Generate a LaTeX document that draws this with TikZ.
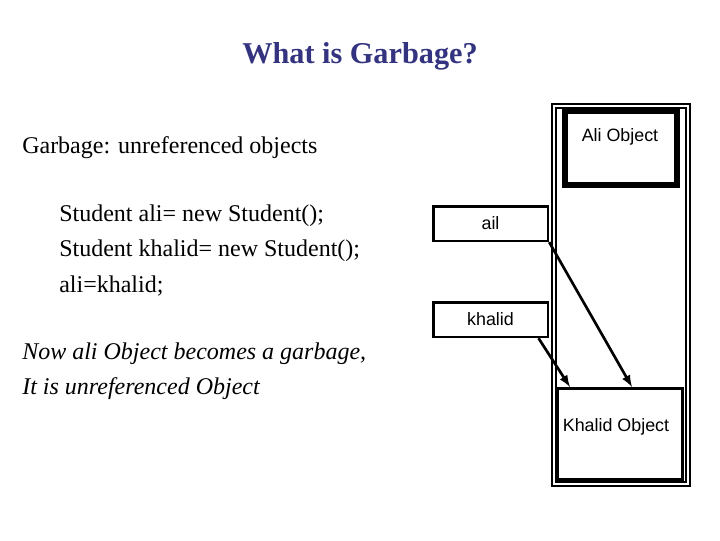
\documentclass[tikz,border=0pt]{standalone}
\usepackage{fontspec}
\setmainfont{Liberation Serif}
\newfontfamily\boxfont{Liberation Sans}
\definecolor{titleblue}{RGB}{51,51,128}
\tikzset{
  refbox/.style={draw, line width=2pt, minimum width=86pt, minimum height=26pt, inner sep=0pt, font=\boxfont\fontsize{13.4}{15}\selectfont},
  codeline/.style={anchor=west, font=\fontsize{18}{21}\selectfont, inner sep=0pt},
  ptr/.style={line width=2pt, -latex}
}
\begin{document}
\begin{tikzpicture}[x=0.75pt, y=-0.75pt]
\useasboundingbox (0,0) rectangle (720,540);
\node[font=\bfseries\fontsize{22.7}{26}\selectfont, text=titleblue] (title) at (360,56) {What is Garbage?};
\node[codeline] (def) at (22,148) {Garbage: unreferenced objects};
\node[codeline] (l1) at (59,216) {Student ali= new Student();};
\node[codeline] (l2) at (59,251) {Student khalid= new Student();};
\node[codeline] (l3) at (59,286) {ali=khalid;};
\node[codeline, font=\itshape\fontsize{18}{21}\selectfont] (n1) at (22,354) {Now ali Object becomes a garbage,};
\node[codeline, font=\itshape\fontsize{18}{21}\selectfont] (n2) at (22,389) {It is unreferenced Object};
% heap
\draw[line width=1.5pt] (552,104) rectangle (690,486);
\draw[line width=1.5pt] (556,108) rectangle (686,482);
\draw[line width=5pt] (565,111) rectangle (677,185);
\node[font=\boxfont\fontsize{13.4}{15}\selectfont] (aliobj) at (620,137) {Ali Object};
\node[draw, line width=2pt, minimum width=94pt, minimum height=68pt, inner sep=0pt] (khobjbox) at (620,434) {};
\node[font=\boxfont\fontsize{13.4}{15}\selectfont] (khobj) at (616,427) {Khalid Object};
% references
\node[refbox] (ail) at (490.5,223.5) {ail};
\node[refbox] (khalid) at (490.5,319.5) {khalid};
\coordinate (t1) at (632,387);
\coordinate (t2) at (570,387);
\draw[ptr] (ail.south east) -- (t1);
\draw[ptr] ([xshift=-8pt]khalid.south east) -- (t2);
\end{tikzpicture}
\end{document}
